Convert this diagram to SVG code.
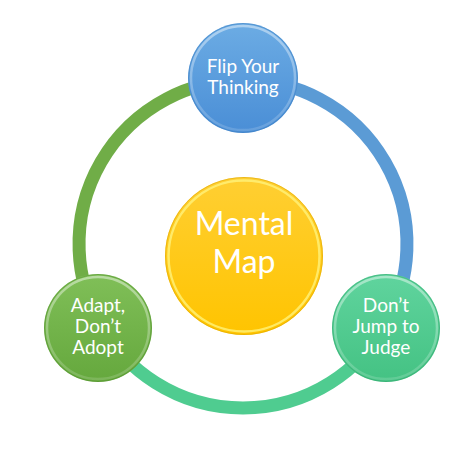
<svg xmlns="http://www.w3.org/2000/svg" width="464" height="458" viewBox="0 0 464 458">
  <defs>
    <linearGradient id="gBlue" x1="0" y1="0" x2="0" y2="1">
      <stop offset="0" stop-color="#6cace4"/>
      <stop offset="1" stop-color="#4a8ed6"/>
    </linearGradient>
    <linearGradient id="gYellow" x1="0" y1="0" x2="0" y2="1">
      <stop offset="0" stop-color="#ffcf33"/>
      <stop offset="1" stop-color="#ffc400"/>
    </linearGradient>
    <linearGradient id="gGreen" x1="0" y1="0" x2="0" y2="1">
      <stop offset="0" stop-color="#80bf58"/>
      <stop offset="1" stop-color="#65a83d"/>
    </linearGradient>
    <linearGradient id="gTeal" x1="0" y1="0" x2="0" y2="1">
      <stop offset="0" stop-color="#60d49e"/>
      <stop offset="1" stop-color="#44c283"/>
    </linearGradient>
    <linearGradient id="rim" x1="0" y1="0" x2="0" y2="1">
      <stop offset="0" stop-color="#ffffff" stop-opacity="0.45"/>
      <stop offset="1" stop-color="#ffffff" stop-opacity="0.15"/>
    </linearGradient>
  </defs>
  <style>
    .arc { fill: none; stroke-width: 13; }
    .edge { fill: none; stroke-width: 1; stroke-opacity: 0.5; }
    .bevel { fill: none; stroke: url(#rim); stroke-width: 2.5; }
    .lbl { font-family: Lato, "Liberation Sans", sans-serif; fill: #ffffff; text-anchor: middle; }
    .small { font-size: 19px; }
    .big { font-size: 32px; }
  </style>

  <g id="connectors">
    <path class="arc" stroke="#70ad47" d="M 243 80 A 164 164 0 0 0 101 326"/>
    <path class="arc" stroke="#5b9bd5" d="M 243 80 A 164 164 0 0 1 385 326"/>
    <path class="arc" stroke="#4fcc90" d="M 385 326 A 164 164 0 0 1 101 326"/>
  </g>

  <g id="node-center">
    <circle cx="244" cy="256" r="79" fill="url(#gYellow)"/>
    <circle cx="244" cy="256" r="78.5" class="edge" stroke="#d9a400"/>
    <circle cx="244" cy="256" r="75.5" class="bevel" style="stroke:#fff27a;stroke-opacity:0.8"/>
    <text class="lbl big" x="244" y="235">Mental</text>
    <text class="lbl big" x="244" y="273">Map</text>
  </g>

  <g id="node-top">
    <circle cx="243" cy="78" r="55" fill="url(#gBlue)"/>
    <circle cx="243" cy="78" r="54.5" class="edge" stroke="#3f7fc0"/>
    <circle cx="243" cy="78" r="52" class="bevel"/>
    <text class="lbl small" x="243" y="73">Flip Your</text>
    <text class="lbl small" x="243" y="94">Thinking</text>
  </g>

  <g id="node-left">
    <circle cx="98" cy="328" r="54" fill="url(#gGreen)"/>
    <circle cx="98" cy="328" r="53.5" class="edge" stroke="#548f30"/>
    <circle cx="98" cy="328" r="51" class="bevel"/>
    <text class="lbl small" x="98" y="312">Adapt,</text>
    <text class="lbl small" x="98" y="333">Don’t</text>
    <text class="lbl small" x="98" y="354">Adopt</text>
  </g>

  <g id="node-right">
    <circle cx="386" cy="328" r="54" fill="url(#gTeal)"/>
    <circle cx="386" cy="328" r="53.5" class="edge" stroke="#34a56e"/>
    <circle cx="386" cy="328" r="51" class="bevel"/>
    <text class="lbl small" x="386" y="312">Don’t</text>
    <text class="lbl small" x="386" y="333">Jump to</text>
    <text class="lbl small" x="386" y="354">Judge</text>
  </g>
</svg>
